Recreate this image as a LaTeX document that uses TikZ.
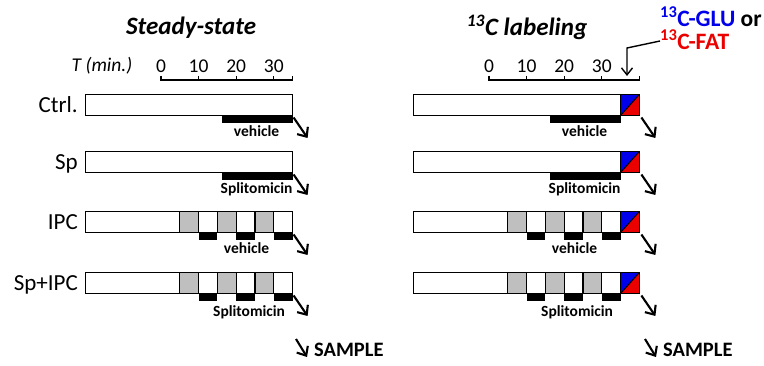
\documentclass[tikz,border=0pt]{standalone}
\usepackage{fontspec}
\setmainfont{Carlito}
\usetikzlibrary{arrows.meta}
\definecolor{cellgray}{RGB}{191,191,191}
\definecolor{labblue}{RGB}{0,0,235}
\definecolor{labred}{RGB}{235,0,0}
\begin{document}
\begin{tikzpicture}[x=1pt,y=-1pt,
  bx/.style={draw=black, line width=1.3pt},
  blackbar/.style={fill=black},
  rowlab/.style={font=\fontsize{23}{26}\selectfont, anchor=base east, inner sep=0pt},
  drug/.style={font=\fontsize{15.5}{17}\selectfont\bfseries, anchor=base, inner sep=0pt},
  ttl/.style={font=\fontsize{25}{28}\selectfont\bfseries\itshape, anchor=base, inner sep=0pt},
  num/.style={font=\fontsize{19.5}{21}\selectfont, anchor=base, inner sep=0pt},
  sarrow/.style={line width=2.1pt, -{Straight Barb[length=7.5pt,width=13pt,line width=2.1pt]}},
  smp/.style={font=\fontsize{20.5}{23}\selectfont\bfseries, anchor=base west, inner sep=0pt},
  scalebar/.style={line width=1.2pt}]
\useasboundingbox (0,0) rectangle (764,366);
\def\u{3.76}

% titles
\node[ttl] (t1) at (191,35) {Steady-state};
\node[ttl] (t2) at (527,36) {\textsuperscript{13}C labeling};

% scale left
\node[font=\fontsize{19.5}{21}\selectfont\itshape, anchor=base, inner sep=0pt] (tmin) at (102,72) {T (min.)};
\draw[scalebar] (161,76) -- (161,80) -- ({161+35*\u},80) -- ({161+35*\u},76);
\foreach \t in {10,20,30} \draw[scalebar] ({161+\t*\u},80) -- ({161+\t*\u},76.5);
\foreach \t in {0,10,20,30} \node[num] (nl\t) at ({161+\t*\u},73) {\t};

% scale right
\draw[scalebar] (489,76) -- (489,80) -- ({489+40*\u},80) -- ({489+40*\u},76);
\foreach \t in {10,20,30} \draw[scalebar] ({489+\t*\u},80) -- ({489+\t*\u},76.5);
\foreach \t in {0,10,20,30} \node[num] (nr\t) at ({489+\t*\u},73) {\t};

% row labels
\node[rowlab] (lctrl) at (78,{105+7.5}) {Ctrl.};
\node[rowlab] (lsp) at (78,{162+7.5}) {Sp};
\node[rowlab] (lipc) at (78,{222+7.5}) {IPC};
\node[rowlab] (lspipc) at (78,{283+7.5}) {Sp+IPC};

\foreach \ox/\pn in {161/L,489/R}{
  % bars
  \foreach \yc in {105,162}{
    \fill[blackbar] ({\ox+16.3*\u},{\yc+10.5}) rectangle ({\ox+35*\u},{\yc+18.5});
    \draw[bx, fill=white] ({\ox-20*\u},{\yc-10.5}) rectangle ({\ox+35*\u},{\yc+10.5});
  }
  \foreach \yc in {222,283}{
    \foreach \t in {10,20,30}
      \fill[blackbar] ({\ox+\t*\u},{\yc+10.5}) rectangle ({\ox+(\t+5)*\u},{\yc+18.5});
    \draw[bx, fill=white] ({\ox-20*\u},{\yc-10.5}) rectangle ({\ox+35*\u},{\yc+10.5});
    \foreach \t in {5,15,25}
      \draw[bx, fill=cellgray] ({\ox+\t*\u},{\yc-10.5}) rectangle ({\ox+(\t+5)*\u},{\yc+10.5});
  }
  % labels under bars
  \node[drug] (v1\pn) at ({\ox+35*\u-36},137) {vehicle};
  \node[drug] (s2\pn) at ({\ox+35*\u-36},193.5) {Splitomicin};
  \node[drug] (v3\pn) at ({\ox+35*\u-46},254) {vehicle};
  \node[drug] (s4\pn) at ({\ox+35*\u-43.5},317) {Splitomicin};
}

% colour squares on right panel
\foreach \yc in {105,162,222,283}{
  \fill[labblue] ({489+35*\u},{\yc-10.5}) -- ({489+40*\u},{\yc-10.5}) -- ({489+35*\u},{\yc+10.5}) -- cycle;
  \fill[labred] ({489+40*\u},{\yc-10.5}) -- ({489+40*\u},{\yc+10.5}) -- ({489+35*\u},{\yc+10.5}) -- cycle;
  \draw[bx] ({489+35*\u},{\yc-10.5}) rectangle ({489+40*\u},{\yc+10.5});
  \draw[line width=1pt] ({489+35*\u},{\yc+10.5}) -- ({489+40*\u},{\yc-10.5});
}

% sample arrows
\foreach \yc/\k in {105/1,162/2,222/3,283/4}{
  \coordinate (al\k) at ({161+35*\u+1},{\yc+12.5});
  \coordinate (bl\k) at ({161+35*\u+15},{\yc+33});
  \draw[sarrow] (al\k) -- (bl\k);
  \coordinate (ar\k) at ({489+40*\u+2},{\yc+12.5});
  \coordinate (br\k) at ({489+40*\u+16},{\yc+33});
  \draw[sarrow] (ar\k) -- (br\k);
}

% SAMPLE legends
\coordinate (sa1) at (296,339);
\coordinate (sb1) at (307,357);
\draw[sarrow] (sa1) -- (sb1);
\node[smp] (sample1) at (314,357) {SAMPLE};
\coordinate (sa2) at (645,339);
\coordinate (sb2) at (656,357);
\draw[sarrow] (sa2) -- (sb2);
\node[smp] (sample2) at (663,357) {SAMPLE};

% label for 13C substrates
\node[font=\fontsize{23.5}{26}\selectfont\bfseries, anchor=base west, inner sep=0pt] (glu) at (660,27)
  {\textcolor{labblue}{\textsuperscript{13}C-GLU} or};
\node[font=\fontsize{23.5}{26}\selectfont\bfseries, anchor=base west, inner sep=0pt, text=labred] (fat) at (660,50)
  {\textsuperscript{13}C-FAT};
\coordinate (bend) at (627,48);
\coordinate (tip) at (627,76);
\draw[line width=1.4pt, -{Straight Barb[length=7pt,width=11pt,line width=1.4pt]}] (fat.west |- 0,41) -- (bend) -- (tip);
\end{tikzpicture}
\end{document}
